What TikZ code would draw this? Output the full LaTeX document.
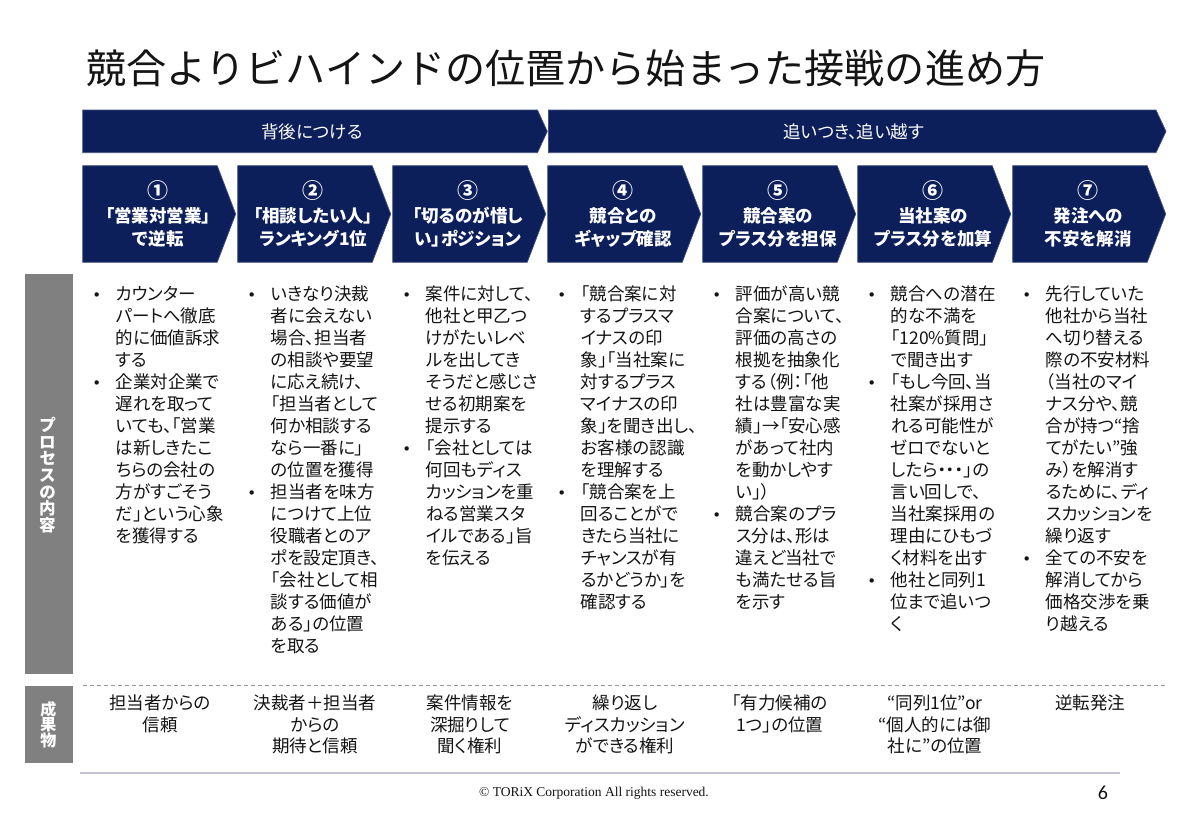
\documentclass[tikz,border=0pt]{standalone}
\usepackage{fontspec}
\setmainfont[RawFeature=+palt]{Noto Sans CJK JP}
\newfontfamily\titlefont{Noto Sans CJK JP}
\newfontfamily\symfont{DejaVu Sans}
\newfontfamily\serifft{Liberation Serif}
\newfontfamily\numft{Carlito}
\definecolor{navy}{RGB}{12,31,91}
\definecolor{edgeblue}{RGB}{70,82,125}
\definecolor{bargray}{RGB}{128,128,128}
\definecolor{dashgray}{RGB}{150,150,150}
\definecolor{rulegray}{RGB}{196,196,206}
\definecolor{textblack}{RGB}{20,20,20}
\newcommand\bulletglyph{{\symfont\fontsize{15}{15}\selectfont •}}
\newcommand\bitem[1]{\hbox{\makebox[28.5pt][l]{\makebox[19pt]{\bulletglyph}}#1}}
\newcommand\bline[1]{\hbox{\hspace*{28.5pt}#1}}
\newcommand\centerln[2]{\hbox to #1{\hss#2\hss}}
\newcommand\stepnum[1]{\centerln{150pt}{\fontsize{21}{23.2}\selectfont #1}}
\begin{document}
\begin{tikzpicture}[x=1pt,y=-1pt,
  stepshape/.style={fill=navy, draw=edgeblue, line width=0.7pt},
  bannertext/.style={text=white, inner sep=0, anchor=base, font=\fontsize{17.5}{22}\selectfont},
  bartext/.style={text=white, inner sep=0, anchor=base},
  steptext/.style={text=white, inner sep=0, anchor=base, font=\bfseries\fontsize{17.5}{23.2}\selectfont},
  bodytext/.style={inner sep=0, anchor=base west, text=textblack, font=\fontsize{17.5}{22}\selectfont},
  restext/.style={inner sep=0, anchor=base, text=textblack, font=\fontsize{17.5}{21.5}\selectfont},
]
\fill[white] (0,0) rectangle (1200,831);
\useasboundingbox (0,0) rectangle (1200,831);

% title
\node[inner sep=0, anchor=base west, text=textblack] (title) at (86,83.2)
  {\titlefont\fontsize{40.1}{44}\selectfont 競合よりビハインドの位置から始まった接戦の進め方};

% top banners
\draw[stepshape] (82.7,110) -- (537.5,110) -- (547.3,131.4) -- (537.5,152.7) -- (82.7,152.7) -- cycle;
\draw[stepshape] (548.5,110) -- (1156,110) -- (1166,131.4) -- (1156,152.7) -- (548.5,152.7) -- cycle;
\node[bannertext] (ban1) at (312,138) {背後につける};
\node[bannertext] (ban2) at (854,138) {追いつき、追い越す};

% step shapes
\foreach \i in {0,...,6} {
  \draw[stepshape] (82.7+155*\i,165.7) -- (217.2+155*\i,165.7) -- (235.7+155*\i,214)
     -- (217.2+155*\i,262.3) -- (82.7+155*\i,262.3) -- cycle;
}
\node[steptext] (s1) at (158.2,198.8) {\vtop{\stepnum{①}\centerln{150pt}{「営業対営業」}\centerln{150pt}{で逆転}}};
\node[steptext] (s2) at (313.2,198.8) {\vtop{\stepnum{②}\centerln{150pt}{「相談したい人」}\centerln{150pt}{ランキング1位}}};
\node[steptext] (s3) at (468.2,198.8) {\vtop{\stepnum{③}\centerln{150pt}{「切るのが惜し}\centerln{150pt}{い」ポジション}}};
\node[steptext] (s4) at (623.2,198.8) {\vtop{\stepnum{④}\centerln{150pt}{競合との}\centerln{150pt}{ギャップ確認}}};
\node[steptext] (s5) at (778.2,198.8) {\vtop{\stepnum{⑤}\centerln{150pt}{競合案の}\centerln{150pt}{プラス分を担保}}};
\node[steptext] (s6) at (933.2,198.8) {\vtop{\stepnum{⑥}\centerln{150pt}{当社案の}\centerln{150pt}{プラス分を加算}}};
\node[steptext] (s7) at (1088.2,198.8) {\vtop{\stepnum{⑦}\centerln{150pt}{発注への}\centerln{150pt}{不安を解消}}};

% side bars
\fill[bargray] (24.5,274) rectangle (72.7,674.4);
\fill[bargray] (24.5,685.7) rectangle (72.7,763.3);
\node[bartext, font=\bfseries\fontsize{16.5}{16.7}\selectfont] (lab1) at (47.5,431.3)
  {\vtop{\centerln{20pt}{プ}\centerln{20pt}{ロ}\centerln{20pt}{セ}\centerln{20pt}{ス}\centerln{20pt}{の}\centerln{20pt}{内}\centerln{20pt}{容}}};
\node[bartext, font=\bfseries\fontsize{16}{15.8}\selectfont] (lab2) at (48.3,715.1)
  {\vtop{\centerln{20pt}{成}\centerln{20pt}{果}\centerln{20pt}{物}}};

% process columns
\node[bodytext] (p1) at (87.2,300) {\vtop{%
\bitem{カウンター}\bline{パートへ徹底}\bline{的に価値訴求}\bline{する}%
\bitem{企業対企業で}\bline{遅れを取って}\bline{いても、「営業}\bline{は新しきたこ}\bline{ちらの会社の}\bline{方がすごそう}\bline{だ」という心象}\bline{を獲得する}}};
\node[bodytext] (p2) at (242.2,300) {\vtop{%
\bitem{いきなり決裁}\bline{者に会えない}\bline{場合、担当者}\bline{の相談や要望}\bline{に応え続け、}\bline{「担当者として}\bline{何か相談する}\bline{なら一番に」}\bline{の位置を獲得}%
\bitem{担当者を味方}\bline{につけて上位}\bline{役職者とのア}\bline{ポを設定頂き、}\bline{「会社として相}\bline{談する価値が}\bline{ある」の位置}\bline{を取る}}};
\node[bodytext] (p3) at (397.2,300) {\vtop{%
\bitem{案件に対して、}\bline{他社と甲乙つ}\bline{けがたいレベ}\bline{ルを出してき}\bline{そうだと感じさ}\bline{せる初期案を}\bline{提示する}%
\bitem{「会社としては}\bline{何回もディス}\bline{カッションを重}\bline{ねる営業スタ}\bline{イルである」旨}\bline{を伝える}}};
\node[bodytext] (p4) at (552.2,300) {\vtop{%
\bitem{「競合案に対}\bline{するプラスマ}\bline{イナスの印}\bline{象」「当社案に}\bline{対するプラス}\bline{マイナスの印}\bline{象」を聞き出し、}\bline{お客様の認識}\bline{を理解する}%
\bitem{「競合案を上}\bline{回ることがで}\bline{きたら当社に}\bline{チャンスが有}\bline{るかどうか」を}\bline{確認する}}};
\node[bodytext] (p5) at (707.2,300) {\vtop{%
\bitem{評価が高い競}\bline{合案について、}\bline{評価の高さの}\bline{根拠を抽象化}\bline{する（例：「他}\bline{社は豊富な実}\bline{績」→「安心感}\bline{があって社内}\bline{を動かしやす}\bline{い」）}%
\bitem{競合案のプラ}\bline{ス分は、形は}\bline{違えど当社で}\bline{も満たせる旨}\bline{を示す}}};
\node[bodytext] (p6) at (862.2,300) {\vtop{%
\bitem{競合への潜在}\bline{的な不満を}\bline{「120\%質問」}\bline{で聞き出す}%
\bitem{「もし今回、当}\bline{社案が採用さ}\bline{れる可能性が}\bline{ゼロでないと}\bline{したら・・・」の}\bline{言い回しで、}\bline{当社案採用の}\bline{理由にひもづ}\bline{く材料を出す}%
\bitem{他社と同列1}\bline{位まで追いつ}\bline{く}}};
\node[bodytext] (p7) at (1017.2,300) {\vtop{%
\bitem{先行していた}\bline{他社から当社}\bline{へ切り替える}\bline{際の不安材料}\bline{（当社のマイ}\bline{ナス分や、競}\bline{合が持つ“捨}\bline{てがたい”強}\bline{み）を解消す}\bline{るために、ディ}\bline{スカッションを}\bline{繰り返す}%
\bitem{全ての不安を}\bline{解消してから}\bline{価格交渉を乗}\bline{り越える}}};

% separator lines
\coordinate (dashL) at (82.7,685.5);
\coordinate (dashR) at (1166,685.5);
\draw[dashgray, line width=1pt, dash pattern=on 4pt off 3pt] (dashL) -- (dashR);
\coordinate (ruleL) at (80,772.6);
\coordinate (ruleR) at (1120,772.6);
\draw[rulegray, line width=2pt] (ruleL) -- (ruleR);

% results
\node[restext] (r1) at (160,709.6) {\vtop{\centerln{150pt}{担当者からの}\centerln{150pt}{信頼}}};
\node[restext] (r2) at (315,709.6) {\vtop{\centerln{150pt}{決裁者＋担当者}\centerln{150pt}{からの}\centerln{150pt}{期待と信頼}}};
\node[restext] (r3) at (470,709.6) {\vtop{\centerln{150pt}{案件情報を}\centerln{150pt}{深掘りして}\centerln{150pt}{聞く権利}}};
\node[restext] (r4) at (625,709.6) {\vtop{\centerln{150pt}{繰り返し}\centerln{150pt}{ディスカッション}\centerln{150pt}{ができる権利}}};
\node[restext] (r5) at (780,709.6) {\vtop{\centerln{150pt}{「有力候補の}\centerln{150pt}{1つ」の位置}}};
\node[restext] (r6) at (935,709.6) {\vtop{\centerln{150pt}{“同列1位”or}\centerln{150pt}{“個人的には御}\centerln{150pt}{社に”の位置}}};
\node[restext] (r7) at (1090,709.6) {\vtop{\centerln{150pt}{逆転発注}}};

% footer
\node[inner sep=0, anchor=base, text=textblack] (copy) at (594,796.5)
  {\serifft\fontsize{13.5}{14}\selectfont © TORiX Corporation All rights reserved.};
\node[inner sep=0, anchor=center, text=textblack] (page) at (1103,793)
  {\numft\fontsize{20}{20}\selectfont 6};
\end{tikzpicture}
\end{document}
